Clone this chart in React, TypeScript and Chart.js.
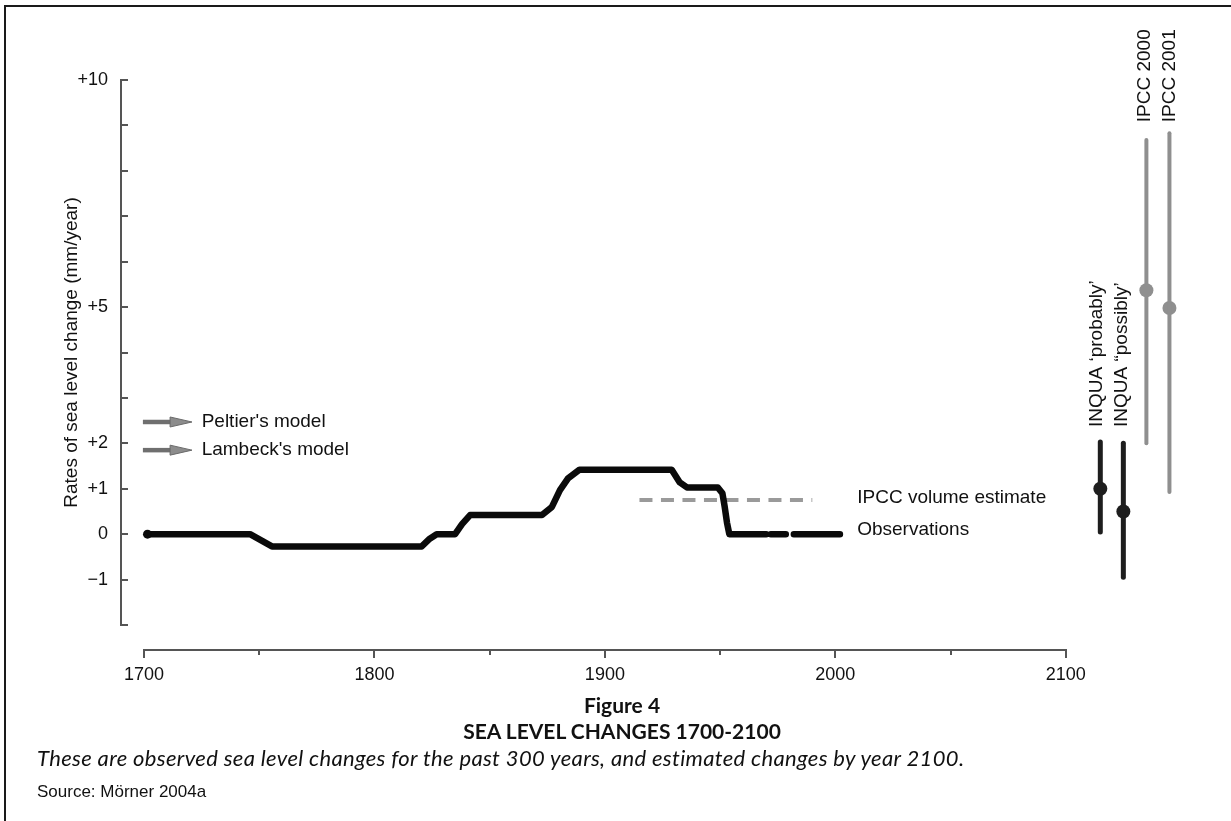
import React, { useEffect, useRef } from 'react';
import { Chart, registerables } from 'chart.js';

Chart.register(...registerables);

const SANS = '"Liberation Sans", Arial, Helvetica, sans-serif';

// ---- Observations (mm/year) ----
const obsYears = [1701.5, 1746, 1755.5, 1820.5, 1824, 1827, 1835, 1838, 1841.5, 1872.7, 1877, 1880.5, 1884, 1889, 1929, 1932.5, 1935.6, 1949, 1951, 1952, 1953, 1954, 1970, 1971, 1972, 1978.5, 1980.5, 1982, 2002];
const obsValues: (number | null)[] = [0, 0, -0.27, -0.27, -0.1, 0, 0, 0.22, 0.42, 0.42, 0.6, 0.97, 1.23, 1.42, 1.42, 1.14, 1.03, 1.03, 0.9, 0.6, 0.25, 0, 0, null, 0, 0, null, 0, 0];

// ---- IPCC volume estimate ----
const ipccVolYears = [1915, 1990];
const ipccVolValues = [0.75, 0.75];

// ---- Projections to 2100 ----
const projLabels = ['INQUA ‘probably’', 'INQUA “possibly’', 'IPCC 2000', 'IPCC 2001'];
const projYears = [2115, 2125, 2135, 2145];
const projLow = [0.05, -0.95, 2.0, 0.93];
const projHigh = [2.03, 2.0, 8.68, 8.83];
const projMid = [1.0, 0.5, 5.37, 4.98];
const projColors = ['#1e1e1e', '#1e1e1e', '#8f8f8f', '#8f8f8f'];

// ---- Model arrows ----
const modelLabels = ["Peltier's model", "Lambeck's model"];
const modelValues = [2.47, 1.85];

// ---- Axes ----
const xTickYears = [1700, 1750, 1800, 1850, 1900, 1950, 2000, 2050, 2100];
const xLabelYears = [1700, 1800, 1900, 2000, 2100];
const yLabelValues = [10, 5, 2, 1, 0, -1];
const yLabelTexts = ['+10', '+5', '+2', '+1', '0', '−1'];

// annotation anchors (in data units)
const lineLabelYear = 2009.5;
const lineLabelNames = ['IPCC volume estimate', 'Observations'];
const lineLabelValues = [0.81, 0.09];
const projLabelYears = [2113.4, 2124.5, 2134.3, 2145.3];
const projLabelStart = [2.36, 2.36, 9.07, 9.07];
const arrowStartYear = 1699.5;
const arrowHeadYear = 1711.3;
const arrowEndYear = 1720.8;
const arrowTextYear = 1725;

const overlayPlugin = {
  id: 'overlay',
  afterDraw(chart: any) {
    const { ctx } = chart;
    const x = chart.scales.x;
    const y = chart.scales.y;
    ctx.save();
    // y tick marks (inward)
    ctx.strokeStyle = '#555';
    ctx.lineWidth = 2;
    y.ticks.forEach((t: any) => {
      const py = Math.round(y.getPixelForValue(t.value));
      ctx.beginPath();
      ctx.moveTo(y.right - 1, py);
      ctx.lineTo(y.right + 7, py);
      ctx.stroke();
    });
    // x axis line + ticks
    const axisY = x.top + 25;
    const x0 = x.getPixelForValue(xTickYears[0]);
    const x1 = x.getPixelForValue(xTickYears[xTickYears.length - 1]);
    ctx.beginPath();
    ctx.moveTo(x0 - 1, axisY);
    ctx.lineTo(x1 + 1, axisY);
    ctx.stroke();
    x.ticks.forEach((t: any) => {
      const px = Math.round(x.getPixelForValue(t.value));
      const major = xLabelYears.includes(t.value);
      ctx.beginPath();
      ctx.moveTo(px, axisY - 1);
      ctx.lineTo(px, axisY + (major ? 8 : 5));
      ctx.stroke();
    });

    // model arrows
    ctx.font = `19px ${SANS}`;
    ctx.fillStyle = '#111';
    ctx.textBaseline = 'middle';
    ctx.textAlign = 'left';
    modelValues.forEach((v, i) => {
      const py = y.getPixelForValue(v);
      const xs = x.getPixelForValue(arrowStartYear);
      const xh = x.getPixelForValue(arrowHeadYear);
      const xe = x.getPixelForValue(arrowEndYear);
      ctx.strokeStyle = '#6f6f6f';
      ctx.lineWidth = 4.5;
      ctx.beginPath();
      ctx.moveTo(xs, py);
      ctx.lineTo(xh + 2, py);
      ctx.stroke();
      ctx.fillStyle = '#8c8c8c';
      ctx.strokeStyle = '#6a6a6a';
      ctx.lineWidth = 1;
      ctx.beginPath();
      ctx.moveTo(xh, py - 5);
      ctx.lineTo(xe, py);
      ctx.lineTo(xh, py + 5);
      ctx.closePath();
      ctx.fill();
      ctx.stroke();
      ctx.fillStyle = '#111';
      ctx.fillText(modelLabels[i], x.getPixelForValue(arrowTextYear), py);
    });

    // line labels
    lineLabelNames.forEach((name, i) => {
      ctx.fillText(name, x.getPixelForValue(lineLabelYear), y.getPixelForValue(lineLabelValues[i]));
    });

    // rotated projection labels
    projLabels.forEach((label, i) => {
      const px = x.getPixelForValue(projLabelYears[i]);
      const py = y.getPixelForValue(projLabelStart[i]);
      ctx.save();
      ctx.translate(px, py);
      ctx.rotate(-Math.PI / 2);
      ctx.textAlign = 'left';
      ctx.textBaseline = 'middle';
      ctx.fillText(label, 0, 0);
      ctx.restore();
    });
    ctx.restore();
  },
};

export default function App() {
  const ref = useRef<HTMLCanvasElement>(null);

  useEffect(() => {
    const canvas = ref.current;
    if (!canvas) return;

    const obsData = obsYears.map((yr, i) => ({ x: yr, y: obsValues[i] }));
    const volData = ipccVolYears.map((yr, i) => ({ x: yr, y: ipccVolValues[i] }));

    const barSets = projYears.map((yr, i) => ({
      type: 'line' as const,
      data: [
        { x: yr, y: projLow[i] },
        { x: yr, y: projHigh[i] },
      ],
      borderColor: projColors[i],
      borderWidth: i < 2 ? 5 : 4,
      borderCapStyle: 'round' as const,
      pointRadius: 0,
      clip: false as any,
    }));

    const chart = new Chart(canvas, {
      type: 'line',
      data: {
        datasets: [
          {
            data: obsData as any,
            borderColor: '#0a0a0a',
            backgroundColor: '#0a0a0a',
            borderWidth: 6.5,
            borderJoinStyle: 'round',
            borderCapStyle: 'round',
            spanGaps: false,
            tension: 0,
            pointRadius: (c: any) => (c.dataIndex === 0 ? 4.5 : 0),
            pointBackgroundColor: '#0a0a0a',
            pointBorderWidth: 0,
            clip: false as any,
          },
          {
            data: volData as any,
            borderColor: '#9a9a9a',
            borderWidth: 4,
            borderDash: [13, 8.5],
            pointRadius: 0,
          },
          ...barSets,
          {
            data: projYears.map((yr, i) => ({ x: yr, y: projMid[i] })) as any,
            showLine: false,
            pointRadius: 7,
            pointBackgroundColor: projColors,
            pointBorderColor: projColors,
            pointBorderWidth: 0,
            clip: false as any,
          },
        ] as any,
      },
      options: {
        responsive: false,
        animation: false,
        layout: { padding: { left: 0, top: 80, right: 27, bottom: 121 } },
        plugins: {
          legend: { display: false },
          tooltip: { enabled: false },
          title: { display: false },
        },
        scales: {
          x: {
            type: 'linear',
            min: 1690,
            max: 2160,
            border: { display: false },
            grid: { display: false, drawTicks: false },
            afterBuildTicks: (s: any) => {
              s.ticks = xTickYears.map((v) => ({ value: v }));
            },
            afterFit: (s: any) => {
              s.height = 75;
            },
            ticks: {
              autoSkip: false,
              maxRotation: 0,
              padding: 39,
              color: '#111',
              font: { family: SANS, size: 18 },
              callback: (v: any) => (xLabelYears.includes(v) ? String(v) : ''),
            },
          },
          y: {
            type: 'linear',
            min: -2,
            max: 10,
            border: { display: true, color: '#555', width: 2 },
            grid: { display: false, drawTicks: false },
            afterFit: (s: any) => {
              s.width = 121;
            },
            title: {
              display: true,
              text: 'Rates of sea level change (mm/year)',
              color: '#111',
              font: { family: SANS, size: 19 },
              padding: { top: 60, bottom: 0 },
            },
            ticks: {
              autoSkip: false,
              stepSize: 1,
              padding: 13,
              color: '#111',
              font: { family: SANS, size: 18 },
              callback: (v: any) => {
                const i = yLabelValues.indexOf(v);
                return i >= 0 ? yLabelTexts[i] : '';
              },
            },
          },
        },
      } as any,
      plugins: [overlayPlugin],
    });

    return () => chart.destroy();
  }, []);

  return (
    <div
      style={{
        position: 'absolute',
        left: 0,
        top: 0,
        width: 1231,
        height: 821,
        overflow: 'hidden',
        background: '#fff',
      }}
    >
      <div
        style={{
          position: 'absolute',
          left: 4,
          top: 5,
          width: 1300,
          height: 900,
          borderTop: '2px solid #1a1a1a',
          borderLeft: '2px solid #1a1a1a',
        }}
      />
      <canvas
        ref={ref}
        width={1231}
        height={821}
        style={{ position: 'absolute', left: 0, top: 0, width: 1231, height: 821 }}
      />
      <div
        style={{
          position: 'absolute',
          left: 322,
          width: 600,
          top: 693,
          lineHeight: '24px',
          textAlign: 'center',
          fontFamily: 'Lato, "Open Sans", sans-serif',
          fontWeight: 700,
          fontSize: 21,
          color: '#111',
        }}
      >
        Figure 4
      </div>
      <div
        style={{
          position: 'absolute',
          left: 222,
          width: 800,
          top: 719,
          lineHeight: '24px',
          textAlign: 'center',
          fontFamily: 'Lato, "Open Sans", sans-serif',
          fontWeight: 700,
          fontSize: 21,
          color: '#111',
        }}
      >
        SEA LEVEL CHANGES 1700-2100
      </div>
      <div
        style={{
          position: 'absolute',
          left: 37,
          top: 745,
          lineHeight: '26px',
          whiteSpace: 'nowrap',
          fontFamily: 'Lato, "Open Sans", sans-serif',
          fontStyle: 'italic',
          fontSize: 22,
          letterSpacing: '0.35px',
          color: '#111',
        }}
      >
        These are observed sea level changes for the past 300 years, and estimated changes by year 2100.
      </div>
      <div
        style={{
          position: 'absolute',
          left: 37,
          top: 782,
          lineHeight: '20px',
          whiteSpace: 'nowrap',
          fontFamily: SANS,
          fontSize: 17,
          color: '#111',
        }}
      >
        Source: Mörner 2004a
      </div>
    </div>
  );
}
